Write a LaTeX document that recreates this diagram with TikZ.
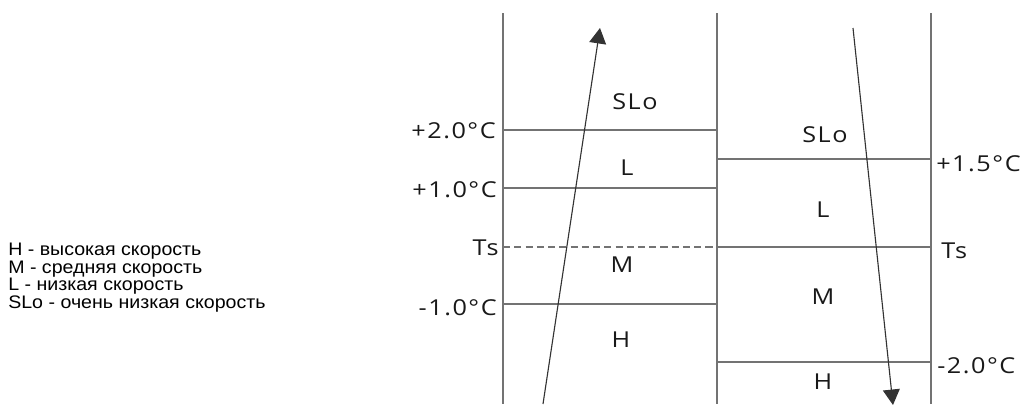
\documentclass[tikz,border=0pt]{standalone}
\usepackage{fontspec}
\usetikzlibrary{arrows.meta, math}
\newfontfamily\legendfont[FakeStretch=1.08]{Liberation Sans}
\newfontfamily\labelfont[FakeStretch=1.15, LetterSpace=7]{Open Sans}
\colorlet{linegray}{black!55}
\colorlet{textgray}{black!90}

\begin{document}
\begin{tikzpicture}[x=0.025cm, y=-0.025cm,
  level/.style={draw=linegray, line width=1pt},
  tlabel/.style={font=\labelfont\fontsize{15.6}{16}\selectfont, text=textgray, inner sep=0pt},
  legend/.style={font=\legendfont\fontsize{12.9}{13}\selectfont, inner sep=0pt, anchor=base west},
  trend/.style={draw=black!80, line width=0.8pt, -{Triangle[length=11pt,width=12pt]}}]
\tikzmath{
\xl=503; \xm=717; \xr=931; \yt=13; \yb=404;
}
\useasboundingbox (0,0) rectangle (1022,404);

% legend
\foreach \t [count=\i] in {H - высокая скорость, M - средняя скорость, L - низкая скорость, SLo - очень низкая скорость}
  \node[legend] (leg\i) at (8,238+17.5*\i) {\t};

% columns
\coordinate (lt) at (\xl,\yt); \coordinate (lb) at (\xl,\yb);
\coordinate (mt) at (\xm,\yt); \coordinate (mb) at (\xm,\yb);
\coordinate (rt) at (\xr,\yt); \coordinate (rb) at (\xr,\yb);
\draw[level] (lt) -- (lb);
\draw[level] (mt) -- (mb);
\draw[level] (rt) -- (rb);

% heating side
\foreach \y/\n in {130/a, 188/b, 304/c}{
  \coordinate (h\n1) at (\xl,\y); \coordinate (h\n2) at (\xm,\y);
  \draw[level] (h\n1) -- (h\n2);
}
\node[tlabel, anchor=east] (ha) at (496,130.5) {+2.0°C};
\node[tlabel, anchor=east] (hb) at (497,190) {+1.0°C};
\node[tlabel, anchor=east] (hts) at (499,248) {Ts};
\node[tlabel, anchor=east] (hc) at (497,308) {-1.0°C};

\coordinate (ts1) at (\xl,247); \coordinate (ts2) at (\xm,247); \coordinate (ts3) at (\xr,247);
\draw[level, dash pattern=on 5pt off 3pt] (ts1) -- (ts2);
\draw[level] (ts2) -- (ts3);

% cooling side
\foreach \y/\n in {159/a, 362/b}{
  \coordinate (c\n1) at (\xm,\y); \coordinate (c\n2) at (\xr,\y);
  \draw[level] (c\n1) -- (c\n2);
}
\node[tlabel, anchor=west] (ca) at (936,164) {+1.5°C};
\node[tlabel, anchor=west] (cts) at (941,251) {Ts};
\node[tlabel, anchor=west] (cb) at (937,366) {-2.0°C};

% speeds
\node[tlabel] (hslo) at (635,102) {SLo};
\node[tlabel] (hl) at (627,168) {L};
\node[tlabel] (hm) at (622,265) {M};
\node[tlabel] (hh) at (621,340) {H};
\node[tlabel] (cslo) at (825,135) {SLo};
\node[tlabel] (cl) at (823,210) {L};
\node[tlabel] (cm) at (823,297) {M};
\node[tlabel] (ch) at (823,382) {H};

% trends
\coordinate (upS) at (543,404); \coordinate (upE) at (600,28);
\coordinate (dnS) at (853,28); \coordinate (dnE) at (893,405);
\draw[trend] (upS) -- (upE);
\draw[trend] (dnS) -- (dnE);

\end{tikzpicture}
\end{document}
